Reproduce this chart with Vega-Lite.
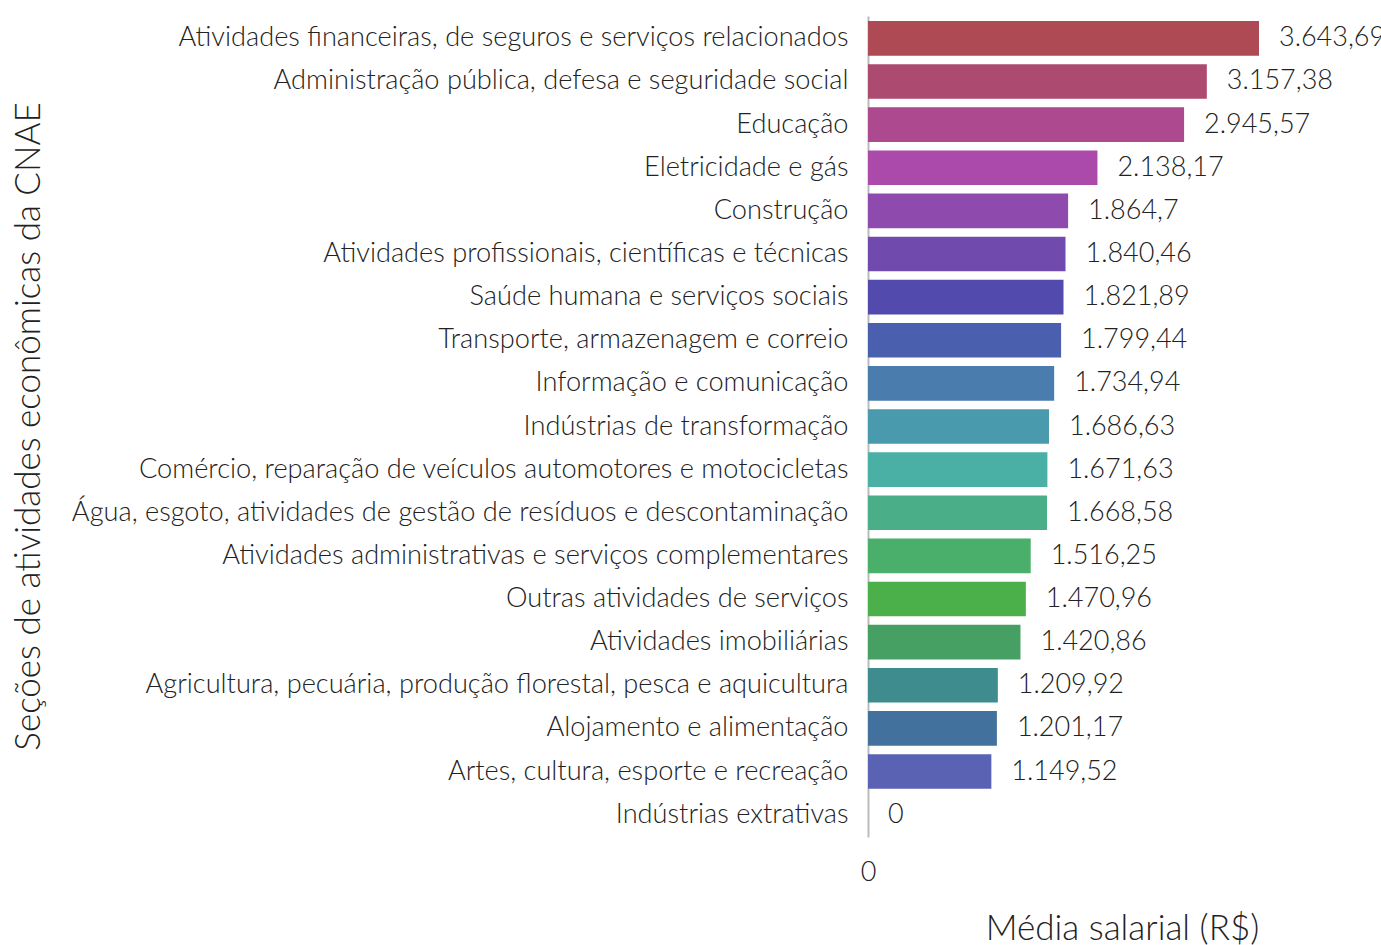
{
  "$schema": "https://vega.github.io/schema/vega-lite/v6.json",
  "width": 508,
  "height": 821,
  "padding": {"left": 11, "top": 16, "right": 0, "bottom": 0},
  "background": "white",
  "config": {
    "view": {"stroke": null},
    "font": "Lato",
    "locale": {"number": {"decimal": ",", "thousands": ".", "grouping": [3], "currency": ["R$", ""]}}
  },
  "data": {
    "values": [
      {"secao": "Atividades financeiras, de seguros e serviços relacionados", "media": 3643.69},
      {"secao": "Administração pública, defesa e seguridade social", "media": 3157.38},
      {"secao": "Educação", "media": 2945.57},
      {"secao": "Eletricidade e gás", "media": 2138.17},
      {"secao": "Construção", "media": 1864.7},
      {"secao": "Atividades profissionais, científicas e técnicas", "media": 1840.46},
      {"secao": "Saúde humana e serviços sociais", "media": 1821.89},
      {"secao": "Transporte, armazenagem e correio", "media": 1799.44},
      {"secao": "Informação e comunicação", "media": 1734.94},
      {"secao": "Indústrias de transformação", "media": 1686.63},
      {"secao": "Comércio, reparação de veículos automotores e motocicletas", "media": 1671.63},
      {"secao": "Água, esgoto, atividades de gestão de resíduos e descontaminação", "media": 1668.58},
      {"secao": "Atividades administrativas e serviços complementares", "media": 1516.25},
      {"secao": "Outras atividades de serviços", "media": 1470.96},
      {"secao": "Atividades imobiliárias", "media": 1420.86},
      {"secao": "Agricultura, pecuária, produção florestal, pesca e aquicultura", "media": 1209.92},
      {"secao": "Alojamento e alimentação", "media": 1201.17},
      {"secao": "Artes, cultura, esporte e recreação", "media": 1149.52},
      {"secao": "Indústrias extrativas", "media": 0}
    ]
  },
  "encoding": {
    "y": {
      "field": "secao",
      "type": "nominal",
      "sort": null,
      "scale": {"paddingInner": 0.195, "paddingOuter": 0.116},
      "axis": {
        "title": "Seções de atividades econômicas da CNAE",
        "titleFont": "Lato",
        "titleFontWeight": 300,
        "titleFontSize": 35,
        "titleColor": "#222",
        "titleX": -840,
        "titleY": 410,
        "titleAngle": -90,
        "titleAlign": "center",
        "titleBaseline": "middle",
        "labelFont": "Lato",
        "labelFontWeight": 300,
        "labelFontSize": 27.2,
        "labelColor": "#222",
        "labelPadding": 20,
        "labelLimit": 1000,
        "ticks": false,
        "domainColor": "#bbbbbb",
        "domainWidth": 2,
        "grid": false
      }
    },
    "x": {
      "field": "media",
      "type": "quantitative",
      "scale": {"domain": [0, 4734], "nice": false},
      "axis": {
        "title": "Média salarial (R$)",
        "values": [0],
        "format": ",.2~f",
        "labelFlush": false,
        "titleFont": "Lato",
        "titleFontWeight": 300,
        "titleFontSize": 35,
        "titleColor": "#222",
        "titlePadding": 26,
        "labelFont": "Lato",
        "labelFontWeight": 300,
        "labelFontSize": 27,
        "labelColor": "#222",
        "labelPadding": 22,
        "ticks": false,
        "domain": false,
        "grid": false
      }
    }
  },
  "layer": [
    {
      "mark": {"type": "bar"},
      "encoding": {
        "color": {
          "field": "secao",
          "type": "nominal",
          "sort": null,
          "legend": null,
          "scale": {
            "range": ["#AE4A53", "#AD4A6F", "#AD4A8F", "#AB4AAB", "#8E4AAD", "#704AAD", "#534AAD", "#4A5FAD", "#4A7CAD", "#4A9AAD", "#4AAFA5", "#4AAF88", "#4AAF6A", "#4BAF4A", "#46A064", "#3F8C8E", "#43719D", "#5A62B3", "#8A7AB0"]
          }
        }
      }
    },
    {
      "mark": {"type": "text", "align": "left", "baseline": "middle", "dx": 20, "font": "Lato", "fontWeight": 300, "fontSize": 27, "color": "#222"},
      "encoding": {
        "text": {"field": "media", "type": "quantitative", "format": ",.2~f"}
      }
    }
  ]
}
